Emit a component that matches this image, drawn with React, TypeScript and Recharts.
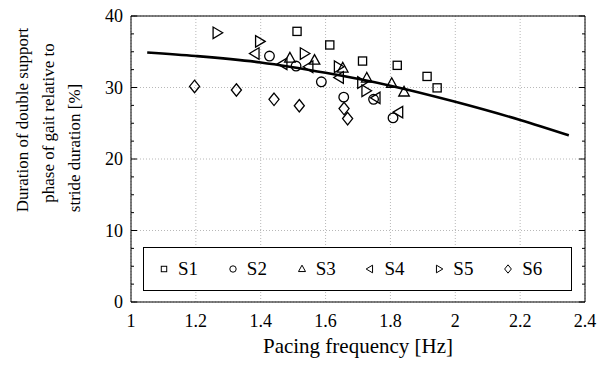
import {
  ComposedChart, Scatter, Line, XAxis, YAxis, CartesianGrid, Legend, Label,
} from "recharts";

// tick positions
const majorX = [1, 1.2, 1.4, 1.6, 1.8, 2, 2.2, 2.4];
const minorX = [
  1, 1.05, 1.1, 1.15, 1.2, 1.25, 1.3, 1.35, 1.4, 1.45, 1.5, 1.55, 1.6, 1.65, 1.7,
  1.75, 1.8, 1.85, 1.9, 1.95, 2, 2.05, 2.1, 2.15, 2.2, 2.25, 2.3, 2.35, 2.4,
];
const majorY = [0, 10, 20, 30, 40];
const minorY = [0, 2.5, 5, 7.5, 10, 12.5, 15, 17.5, 20, 22.5, 25, 27.5, 30, 32.5, 35, 37.5, 40];

// f = pacing frequency [Hz], d = double support duration [%]
const s1 = [
  { f: 1.512, d: 37.85 }, { f: 1.613, d: 35.95 }, { f: 1.714, d: 33.7 },
  { f: 1.821, d: 33.1 }, { f: 1.913, d: 31.55 }, { f: 1.944, d: 29.95 },
];
const s2 = [
  { f: 1.427, d: 34.4 }, { f: 1.509, d: 33.0 }, { f: 1.587, d: 30.8 },
  { f: 1.656, d: 28.65 }, { f: 1.748, d: 28.35 }, { f: 1.808, d: 25.75 },
];
const s3 = [
  { f: 1.49, d: 34.1 }, { f: 1.566, d: 33.8 }, { f: 1.653, d: 32.7 },
  { f: 1.727, d: 31.3 }, { f: 1.804, d: 30.55 }, { f: 1.842, d: 29.35 },
];
const s4 = [
  { f: 1.383, d: 34.75 }, { f: 1.469, d: 33.3 }, { f: 1.549, d: 32.9 },
  { f: 1.643, d: 31.4 }, { f: 1.756, d: 28.55 }, { f: 1.826, d: 26.55 },
];
const s5 = [
  { f: 1.265, d: 37.65 }, { f: 1.396, d: 36.45 }, { f: 1.534, d: 34.75 },
  { f: 1.639, d: 32.9 }, { f: 1.711, d: 30.7 }, { f: 1.724, d: 29.55 },
];
const s6 = [
  { f: 1.196, d: 30.15 }, { f: 1.325, d: 29.65 }, { f: 1.441, d: 28.35 },
  { f: 1.519, d: 27.45 }, { f: 1.657, d: 27.05 }, { f: 1.668, d: 25.65 },
];
const fitCurve = [
  { f: 1.05, d: 34.9 }, { f: 1.2, d: 34.4 }, { f: 1.4, d: 33.5 }, { f: 1.6, d: 32.05 },
  { f: 1.8, d: 30.25 }, { f: 2.0, d: 28.0 }, { f: 2.2, d: 25.45 }, { f: 2.35, d: 23.3 },
];

const FONT = "'Liberation Serif', 'Times New Roman', serif";

type Kind = "square" | "circle" | "up" | "left" | "right" | "diamond";
const kindOf: Record<string, Kind> = {
  S1: "square", S2: "circle", S3: "up", S4: "left", S5: "right", S6: "diamond",
};

function marker(kind: Kind, cx: number, cy: number, r: number, sw: number) {
  const common = { fill: "none", stroke: "#000", strokeWidth: sw };
  switch (kind) {
    case "square":
      return <rect x={cx - r * 0.85} y={cy - r * 0.85} width={r * 1.7} height={r * 1.7} {...common} />;
    case "circle":
      return <circle cx={cx} cy={cy} r={r} {...common} />;
    case "up":
      return <polygon points={`${cx},${cy - r * 1.2} ${cx - r * 1.1},${cy + r * 0.8} ${cx + r * 1.1},${cy + r * 0.8}`} {...common} />;
    case "left":
      return <polygon points={`${cx - r * 1.2},${cy} ${cx + r * 0.8},${cy - r * 1.2} ${cx + r * 0.8},${cy + r * 1.2}`} {...common} />;
    case "right":
      return <polygon points={`${cx + r * 1.2},${cy} ${cx - r * 0.8},${cy - r * 1.2} ${cx - r * 0.8},${cy + r * 1.2}`} {...common} />;
    default:
      return <polygon points={`${cx},${cy - r * 1.3} ${cx + r * 1.05},${cy} ${cx},${cy + r * 1.3} ${cx - r * 1.05},${cy}`} {...common} />;
  }
}

const shapeFor = (kind: Kind) => (p: any) => (
  <g>{marker(kind, p.cx, p.cy, 4.8, 1.3)}</g>
);

// inward tick marks, long on major values
const tickMark = (side: "bottom" | "top" | "left" | "right", majors: number[]) => (p: any) => {
  const { x, y, payload } = p;
  const len = majors.includes(payload.value) ? 6 : 3;
  let x2 = x;
  let y2 = y;
  if (side === "bottom") y2 = y - len;
  if (side === "top") y2 = y + len;
  if (side === "left") x2 = x + len;
  if (side === "right") x2 = x - len;
  return <line x1={x} y1={y} x2={x2} y2={y2} stroke="#000" strokeWidth={1} />;
};

const LegendBox = (props: any) => {
  const payload = (props.payload || [])
    .filter((e: any) => kindOf[e.value])
    .sort((a: any, b: any) => String(a.value).localeCompare(String(b.value)));
  return (
    <div style={{
      border: "1px solid #000", background: "#fff", height: 44, boxSizing: "border-box",
      display: "flex", alignItems: "center", paddingLeft: 14,
      fontFamily: FONT, fontSize: 19, color: "#000",
    }}>
      {payload.map((e: any) => (
        <div key={e.value} style={{ width: 71.5, display: "flex", alignItems: "center" }}>
          <svg width={12} height={12}>{marker(kindOf[e.value], 6, 6, 3.2, 1)}</svg>
          <span style={{ marginLeft: 8 }}>{e.value}</span>
        </div>
      ))}
    </div>
  );
};

const tickStyle = { fill: "#000", fontSize: 18, fontFamily: FONT };

export default function App() {
  const series: [string, { f: number; d: number }[]][] = [
    ["S1", s1], ["S2", s2], ["S3", s3], ["S4", s4], ["S5", s5], ["S6", s6],
  ];
  return (
    <div style={{ position: "absolute", left: 0, top: 0, background: "#fff", fontFamily: FONT }}>
      <ComposedChart width={599} height={369} margin={{ top: 16, right: 14, left: 40, bottom: 17 }}>
        <CartesianGrid stroke="#b8b8b8" strokeDasharray="1 2" />
        <XAxis
          dataKey="f" type="number" domain={[1, 2.4]} ticks={majorX} interval={0}
          allowDataOverflow height={50} tickSize={0} tickMargin={12}
          tickLine={false} axisLine={false} tick={tickStyle}
        >
          <Label
            content={({ viewBox }: any) => (
              <text x={viewBox.x + viewBox.width / 2} y={viewBox.y + 51} textAnchor="middle"
                fontFamily={FONT} fontSize={21} fill="#000">
                Pacing frequency [Hz]
              </text>
            )}
          />
        </XAxis>
        <YAxis
          dataKey="d" type="number" domain={[0, 40]} ticks={majorY} interval={0}
          allowDataOverflow width={91} tickSize={0} tickMargin={8}
          tickLine={false} axisLine={false} tick={tickStyle}
        >
          <Label
            content={() => (
              <g fontFamily={FONT} fontSize={17} fill="#000" textAnchor="middle">
                <text transform="translate(28,120) rotate(-90)">Duration of double support</text>
                <text transform="translate(54,123) rotate(-90)">phase of gait relative to</text>
                <text transform="translate(80,148) rotate(-90)">stride duration [%]</text>
              </g>
            )}
          />
        </YAxis>

        <XAxis xAxisId="bm" orientation="bottom" mirror type="number" domain={[1, 2.4]}
          ticks={minorX} interval={0} allowDataOverflow height={1} tickSize={0} tickMargin={0}
          tickLine={false} axisLine={{ stroke: "#000" }} tick={tickMark("bottom", majorX)} />
        <XAxis xAxisId="tm" orientation="top" mirror type="number" domain={[1, 2.4]}
          ticks={minorX} interval={0} allowDataOverflow height={1} tickSize={0} tickMargin={0}
          tickLine={false} axisLine={{ stroke: "#000" }} tick={tickMark("top", majorX)} />
        <YAxis yAxisId="lm" orientation="left" mirror type="number" domain={[0, 40]}
          ticks={minorY} interval={0} allowDataOverflow width={1} tickSize={0} tickMargin={0}
          tickLine={false} axisLine={{ stroke: "#000" }} tick={tickMark("left", majorY)} />
        <YAxis yAxisId="rm" orientation="right" mirror type="number" domain={[0, 40]}
          ticks={minorY} interval={0} allowDataOverflow width={1} tickSize={0} tickMargin={0}
          tickLine={false} axisLine={{ stroke: "#000" }} tick={tickMark("right", majorY)} />

        {series.map(([name, data]) => (
          <Scatter key={name} name={name} data={data} dataKey="d"
            shape={shapeFor(kindOf[name])} isAnimationActive={false} />
        ))}
        <Line data={fitCurve} dataKey="d" type="monotone" stroke="#000" strokeWidth={2.6}
          dot={false} activeDot={false} legendType="none" isAnimationActive={false} />

        <Legend
          layout="horizontal" verticalAlign="middle" align="center"
          width={429} height={44}
          wrapperStyle={{ left: 143, top: 247, width: 429, height: 44 }}
          content={LegendBox}
        />
      </ComposedChart>
    </div>
  );
}
